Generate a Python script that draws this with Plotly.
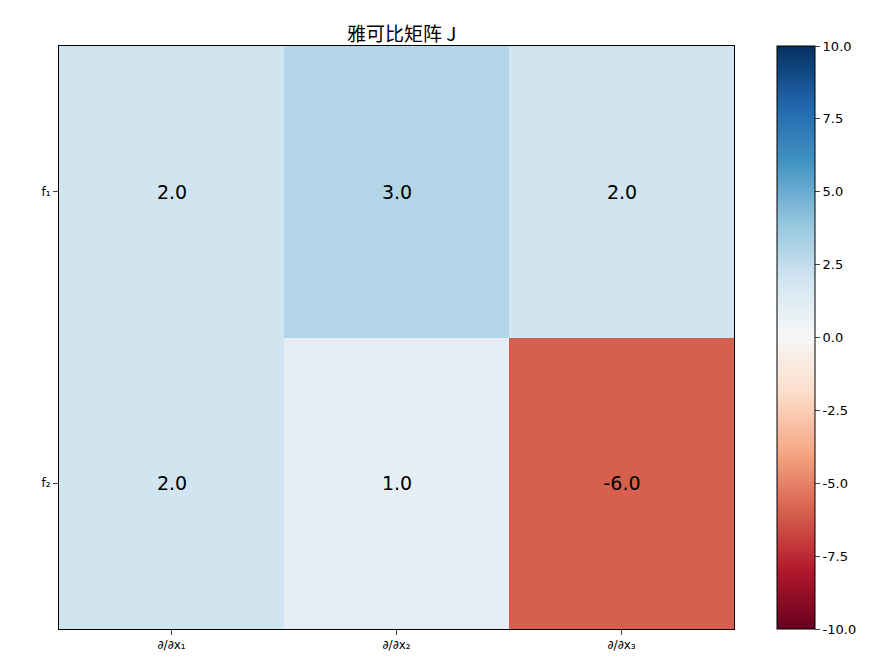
import plotly.graph_objects as go
import plotly.express as px

cols = ["∂/∂x₁", "∂/∂x₂", "∂/∂x₃"]
rows = ["f₁", "f₂"]
z = [[2.0, 3.0, 2.0],
     [2.0, 1.0, -6.0]]

fig = go.Figure(go.Heatmap(
    z=z, x=cols, y=rows, zmin=-10, zmax=10,
    colorscale=px.colors.sequential.RdBu,
    texttemplate="%{z:.1f}", textfont=dict(size=19, color="black", family="DejaVu Sans"),
    colorbar=dict(x=1.064, xanchor="left", thickness=38, len=1, lenmode="fraction",
                  y=0.5, yanchor="middle", ypad=0, xpad=0,
                  tickvals=[-10,-7.5,-5,-2.5,0,2.5,5,7.5,10],
                  ticktext=["-10.0","-7.5","-5.0","-2.5","0.0","2.5","5.0","7.5","10.0"],
                  ticks="outside", outlinewidth=1, outlinecolor="black",
                  tickfont=dict(size=13, color="black")),
))
fig.update_layout(
    width=871, height=661, margin=dict(l=51, r=145, t=38, b=40, autoexpand=False),
    plot_bgcolor="white", paper_bgcolor="white",
    font=dict(family="DejaVu Sans, Noto Sans CJK SC", color="black"),
    title=dict(text="雅可比矩阵 J", x=0.452, xanchor="center", y=0.97,
               font=dict(size=19, family="Noto Sans CJK SC")),
)
fig.update_xaxes(showline=True, linecolor="black", mirror=True, ticks="outside",
                 tickfont=dict(size=12), showgrid=False, automargin=False)
fig.update_yaxes(autorange="reversed", showline=True, linecolor="black", mirror=True,
                 ticks="outside", tickfont=dict(size=12), showgrid=False, automargin=False)
fig.write_html("out.html")
